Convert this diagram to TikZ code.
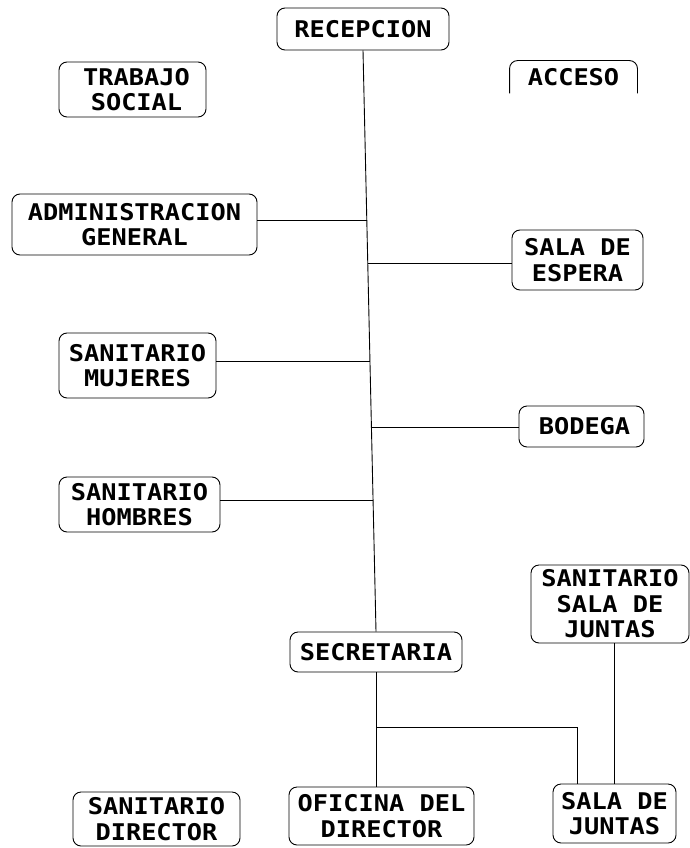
\documentclass[tikz,border=0pt]{standalone}
\usepackage{fontspec}
\setmainfont{DejaVu Sans Mono}[FakeStretch=1.1]
\usetikzlibrary{calc}
\begin{document}
\begin{tikzpicture}[x=1pt,y=-1pt,
  box/.style={draw=black,line width=0.9pt,rounded corners=8pt,align=center,inner sep=0pt,
    font=\fontsize{23}{25.5}\selectfont\bfseries},
  link/.style={draw=black,line width=0.9pt}]
\useasboundingbox[fill=white] (0,0) rectangle (690,848);
\node[box,minimum width=172pt,minimum height=42pt] (recep) at (363,29) {RECEPCION};
\node[box,minimum width=147pt,minimum height=55pt] (trabajo) at (132.5,89.5) {\hspace*{8pt}TRABAJO\\\hspace*{8pt}SOCIAL};
\node[box,draw=none,minimum width=127pt,minimum height=32pt] (acceso) at (573.5,77) {ACCESO};
\draw[link,rounded corners=8pt] (acceso.south west) -- (acceso.north west) -- (acceso.north east) -- (acceso.south east);
\node[box,minimum width=245pt,minimum height=61pt] (admin) at (134.5,224.5) {ADMINISTRACION\\GENERAL};
\node[box,minimum width=131pt,minimum height=60pt] (espera) at (577.5,260) {SALA DE\\ESPERA};
\node[box,minimum width=157pt,minimum height=65pt] (mujeres) at (137.5,365.5) {SANITARIO\\MUJERES};
\node[box,minimum width=125pt,minimum height=41pt] (bodega) at (581.5,426.5) {\hspace*{6pt}BODEGA};
\node[box,minimum width=161pt,minimum height=55pt] (hombres) at (139.5,504.5) {SANITARIO\\HOMBRES};
\node[box,minimum width=158pt,minimum height=78pt] (sansala) at (610,604) {SANITARIO\\SALA DE\\JUNTAS};
\node[box,minimum width=172pt,minimum height=40pt] (secre) at (376,652) {SECRETARIA};
\node[box,minimum width=167pt,minimum height=54pt] (sandir) at (156.5,819) {SANITARIO\\DIRECTOR};
\node[box,minimum width=185pt,minimum height=58pt] (oficina) at (381.5,816) {OFICINA DEL\\DIRECTOR};
\node[box,minimum width=123pt,minimum height=59pt] (salaj) at (614.5,813.5) {SALA DE\\JUNTAS};
% main spine
\draw[link] (recep.south) -- (secre.north)
  coordinate[pos=0.292] (m1)
  coordinate[pos=0.366] (m2)
  coordinate[pos=0.536] (m3)
  coordinate[pos=0.649] (m4)
  coordinate[pos=0.775] (m5);
\draw[link] (m1 -| admin.east) -- (m1);
\draw[link] (m2) -- (m2 -| espera.west);
\draw[link] (m3 -| mujeres.east) -- (m3);
\draw[link] (m4) -- (m4 -| bodega.west);
\draw[link] (m5 -| hombres.east) -- (m5);
% lower part
\draw[link] (secre.south) -- (secre.south |- oficina.north) coordinate[pos=0.478] (b);
\coordinate (j) at ($(salaj.north west)!0.2!(salaj.north east)$);
\draw[link] (b) -- (b -| j) -- (j);
\draw[link] (salaj.north |- sansala.south) -- (salaj.north);
\end{tikzpicture}
\end{document}
